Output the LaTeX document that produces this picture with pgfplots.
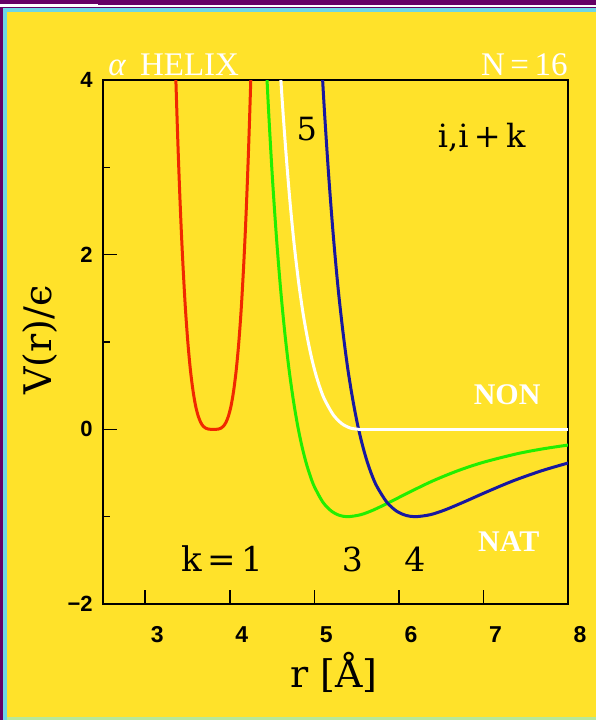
\documentclass[border=0pt]{standalone}
\usepackage{fontspec}
\setmainfont{Liberation Serif}
\newfontfamily\tsans{Liberation Sans}
\newfontfamily\dserif{DejaVu Serif}
\usepackage{pgfplots}
\pgfplotsset{compat=1.18}
\definecolor{bgyellow}{HTML}{FFE22A}
\definecolor{bgpurple}{HTML}{660066}
\definecolor{bgcyan}{HTML}{6ED6E6}
\definecolor{bggreen}{HTML}{B8E89A}
\definecolor{cred}{HTML}{F02800}
\definecolor{cgreen}{HTML}{22EE00}
\definecolor{cblue}{HTML}{1818A0}
\begin{document}
\begin{tikzpicture}[x=1pt,y=1pt]
\useasboundingbox (0,0) rectangle (298,360);
\fill[bgpurple] (0,0) rectangle (298,360);
\fill[white] (0,356.6) rectangle (298,357.3);
\fill[white] (0,356.6) rectangle (49,357.8);
\fill[bgcyan] (1.5,0) rectangle (298,356);
\fill[bggreen] (3.5,0) rectangle (298,1.5);
\fill[bgyellow] (3.5,1.5) rectangle (298,354);
\begin{axis}[
  at={(51.5pt,58pt)}, anchor=south west,
  width=232.5pt, height=262pt, scale only axis,
  xmin=2.5, xmax=8, ymin=-2, ymax=4,
  clip mode=individual,
  axis line style={black, line width=1pt},
  xtick={3,4,5,6,7,8}, xticklabels={3,4,5,6,7,8},
  ytick={-2,0,2,4}, yticklabels={−2,0,2,4},
  minor ytick={-1,1,3},
  xtick pos=bottom, ytick pos=left,
  tick align=inside,
  major tick length=7pt, minor tick length=3.5pt,
  tick style={black, line width=0.8pt},
  xticklabel style={font=\tsans\bfseries\fontsize{11.5}{12}\selectfont, anchor=base, inner sep=0pt, yshift=-19pt, xshift=6pt},
  yticklabel style={font=\tsans\bfseries\fontsize{11}{12}\selectfont, anchor=east, inner sep=0pt, xshift=-5pt},
  every axis plot/.append style={line width=1.5pt, line cap=round, line join=round, no markers},
]
% k=1
\addplot[cred, smooth] coordinates {(3.345,4.58) (3.362,4.0) (3.385,3.30) (3.405,2.77) (3.425,2.30) (3.448,1.84) (3.475,1.38) (3.505,0.98) (3.535,0.67) (3.565,0.44) (3.595,0.27) (3.625,0.156) (3.655,0.081) (3.685,0.036) (3.715,0.013) (3.745,0.003) (3.775,0.0) (3.805,0.0) (3.835,0.0) (3.865,0.003) (3.895,0.013) (3.925,0.036) (3.955,0.081) (3.985,0.156) (4.015,0.27) (4.045,0.44) (4.075,0.67) (4.105,0.98) (4.135,1.38) (4.162,1.84) (4.185,2.30) (4.205,2.77) (4.225,3.30) (4.248,4.0) (4.265,4.58)};
% k=3
\addplot[cgreen, smooth] coordinates {(4.40,4.84) (4.45,3.81) (4.50,2.94) (4.55,2.22) (4.60,1.615) (4.65,1.11) (4.70,0.69) (4.75,0.343) (4.80,0.055) (4.85,-0.181) (4.90,-0.374) (4.95,-0.530) (5.00,-0.656) (5.10,-0.833) (5.20,-0.935) (5.30,-0.986) (5.40,-1.0) (5.55,-0.977) (5.70,-0.923) (5.90,-0.830) (6.10,-0.731) (6.40,-0.591) (6.70,-0.473) (7.00,-0.377) (7.40,-0.279) (7.70,-0.224) (8.00,-0.180)};
% k=4
\addplot[cblue, smooth] coordinates {(5.052,4.84) (5.109,3.81) (5.167,2.94) (5.224,2.22) (5.281,1.615) (5.339,1.11) (5.396,0.69) (5.454,0.343) (5.511,0.055) (5.569,-0.181) (5.626,-0.374) (5.683,-0.530) (5.741,-0.656) (5.856,-0.833) (5.970,-0.935) (6.085,-0.986) (6.200,-1.0) (6.372,-0.977) (6.544,-0.923) (6.774,-0.830) (7.004,-0.731) (7.348,-0.591) (7.693,-0.473) (8.000,-0.386)};
% k=5 (non-native)
\addplot[white, smooth] coordinates {(4.506,5.84) (4.557,4.81) (4.608,3.94) (4.660,3.22) (4.711,2.615) (4.762,2.11) (4.813,1.69) (4.864,1.343) (4.916,1.055) (4.967,0.819) (5.018,0.626) (5.069,0.470) (5.120,0.344) (5.223,0.167) (5.325,0.065) (5.428,0.014) (5.53,0.0)};
\addplot[white] coordinates {(5.53,0.0) (8.0,0.0)};
\node[white, anchor=base west, inner sep=0pt, font=\fontsize{16.5}{18}\selectfont] at (axis cs:2.56,4.046) {\textit{α}\, HELIX};
\node[white, anchor=base east, inner sep=0pt, font=\fontsize{16.5}{18}\selectfont] at (axis cs:8.0,4.046) {N\,=\,16};
\node[white, anchor=base, inner sep=0pt, font=\bfseries\fontsize{15}{18}\selectfont] at (axis cs:7.28,0.28) {NON};
\node[white, anchor=base, inner sep=0pt, font=\bfseries\fontsize{15}{18}\selectfont] at (axis cs:7.30,-1.40) {NAT};
\node[black, anchor=base, inner sep=0pt, font=\dserif\fontsize{16}{18}\selectfont] at (axis cs:4.91,3.31) {5};
\node[black, anchor=base, inner sep=0pt, font=\dserif\fontsize{16}{18}\selectfont] at (axis cs:6.98,3.23) {i,i\,+\,k};
\node[black, anchor=base, inner sep=0pt, font=\dserif\fontsize{17}{18}\selectfont] at (axis cs:3.91,-1.63) {k\,=\,1};
\node[black, anchor=base, inner sep=0pt, font=\dserif\fontsize{16.5}{18}\selectfont] at (axis cs:5.45,-1.63) {3};
\node[black, anchor=base, inner sep=0pt, font=\dserif\fontsize{16.5}{18}\selectfont] at (axis cs:6.19,-1.63) {4};
\node[black, rotate=90, anchor=center, inner sep=0pt, font=\dserif\fontsize{19}{20}\selectfont] at (axis cs:1.755,1.02) {V(r)/ϵ};
\node[black, anchor=center, inner sep=0pt, font=\dserif\fontsize{19}{20}\selectfont] at (axis cs:5.23,-2.78) {r [Å]};
\end{axis}
\end{tikzpicture}
\end{document}
